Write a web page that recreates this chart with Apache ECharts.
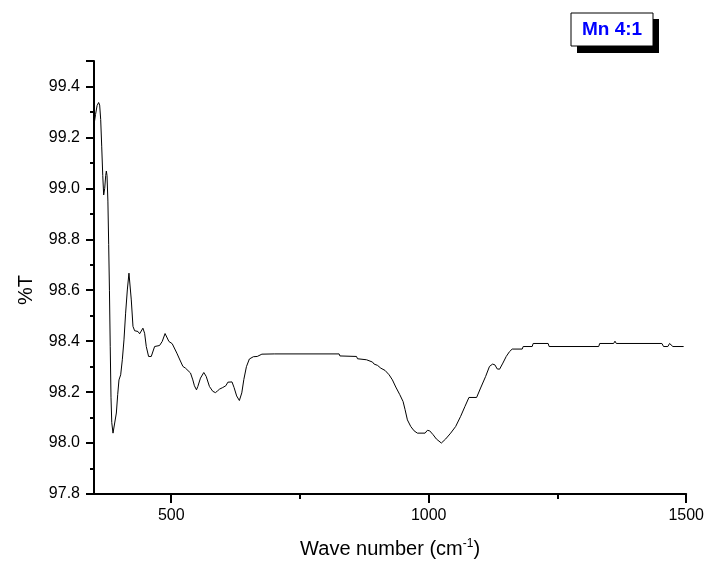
<!DOCTYPE html>
<html>
<head>
<meta charset="utf-8">
<script src="https://cdn.jsdelivr.net/npm/echarts@6/dist/echarts.min.js"></script>
<style>html,body{margin:0;padding:0;background:#fff;}#c{width:707px;height:567px;}</style>
</head>
<body>
<div id="c"></div>
<script>
// Wave number (cm-1)
var waveNumber = [350,353,356,359,361,363,365,367,368.8,370.8,372.7,374,375.3,377,378.5,380,381.5,383,384.5,386.9,389.5,393.4,396,398.5,401.8,405,408.2,411.4,414.7,417.9,419.2,422.4,425.7,428.9,435.4,438.6,445,448.3,451.5,456,461.2,467.7,477.3,482.5,488,491.6,495.4,501.9,510.9,516,522.6,527.7,537.4,541.9,545,549,551.6,556.8,563.2,567.8,574.2,580.7,585.8,590,594,600,606,610,618,622,627,632.3,637,641,646,651.7,659.5,667,676,700,826,827.5,859.8,861.7,879.2,881.1,890.8,894,900.5,907,915.3,923.1,929.5,936,943.8,950.2,954.1,958.6,965.1,971.6,978,992.9,997.4,1001.9,1008.4,1014.8,1024.5,1032.9,1042.6,1052.3,1062,1070.4,1078.1,1093,1100.7,1110.4,1118,1124,1128.5,1133,1137.6,1144,1150.5,1156.9,1162.1,1181.5,1183.4,1200.9,1202.8,1231.9,1233.8,1330.1,1332,1359.1,1361.7,1364.3,1452.8,1456,1464.4,1467.7,1470.9,1474.1,1495];
// %T
var transmittance = [99.25,99.29,99.325,99.337,99.327,99.27,99.163,99.05,98.974,99.0,99.05,99.068,99.05,98.95,98.78,98.60,98.38,98.18,98.08,98.039,98.042,98.118,98.19,98.248,98.268,98.327,98.405,98.51,98.601,98.667,98.671,98.562,98.458,98.441,98.438,98.429,98.451,98.431,98.379,98.34,98.34,98.379,98.383,98.399,98.43,98.425,98.399,98.39,98.353,98.33,98.301,98.294,98.275,98.248,98.225,98.209,98.222,98.255,98.277,98.262,98.222,98.203,98.198,98.205,98.212,98.218,98.225,98.239,98.24,98.218,98.185,98.167,98.197,98.25,98.30,98.33,98.339,98.34,98.349,98.35,98.35,98.342,98.34,98.331,98.327,98.32,98.318,98.31,98.305,98.294,98.285,98.268,98.248,98.22,98.19,98.163,98.131,98.091,98.065,98.048,98.039,98.039,98.05,98.048,98.033,98.016,98.0,98.016,98.039,98.065,98.105,98.144,98.179,98.179,98.216,98.261,98.301,98.31,98.307,98.291,98.29,98.314,98.34,98.359,98.369,98.369,98.379,98.379,98.391,98.391,98.379,98.379,98.391,98.391,98.4,98.391,98.391,98.379,98.379,98.391,98.391,98.379,98.379];

var xMajorTicks = [500, 1000, 1500];
var xMinorTicks = [750, 1250];
var yMajorTicks = [97.8, 98.0, 98.2, 98.4, 98.6, 98.8, 99.0, 99.2, 99.4];
var yMinorTicks = [97.9, 98.1, 98.3, 98.5, 98.7, 98.9, 99.1, 99.3, 99.5];
var sampleLabel = 'Mn 4:1';

var points = waveNumber.map(function (w, i) { return [w, transmittance[i]]; });

var font = '"Liberation Sans", Arial, sans-serif';
var chart = echarts.init(document.getElementById('c'), null, {renderer: 'canvas'});
chart.setOption({
  animation: false,
  backgroundColor: '#fff',
  grid: {left: 94, right: 19, top: 61, bottom: 73},
  xAxis: [{
    type: 'value', min: 350, max: 1500,
    name: 'Wave number (cm{sup|-1})', nameLocation: 'middle', nameGap: 44,
    nameTextStyle: {fontFamily: font, fontSize: 20, color: '#000',
      rich: {sup: {fontFamily: font, fontSize: 12, color: '#000', verticalAlign: 'top', padding: [0,0,10,0]}}},
    axisLine: {show: true, onZero: false, lineStyle: {color: '#000', width: 2}},
    axisTick: {show: true, length: 9, inside: false, customValues: xMajorTicks, lineStyle: {color: '#000', width: 2}},
    axisLabel: {show: true, customValues: xMajorTicks, margin: 14, fontFamily: font, fontSize: 16, color: '#000',
      formatter: function (v) { return String(v); }},
    splitLine: {show: false}
  }, {
    type: 'value', min: 350, max: 1500, position: 'bottom', gridIndex: 0,
    axisLine: {show: false},
    axisTick: {show: true, length: 5, customValues: xMinorTicks, lineStyle: {color: '#000', width: 2}},
    axisLabel: {show: false},
    splitLine: {show: false}
  }],
  yAxis: [{
    type: 'value', min: 97.8, max: 99.5,
    name: '%T', nameLocation: 'middle', nameGap: 58, nameRotate: 90,
    nameTextStyle: {fontFamily: font, fontSize: 20, color: '#000', padding: [0, 25, 0, 0]},
    axisLine: {show: true, onZero: false, lineStyle: {color: '#000', width: 2}},
    axisTick: {show: true, length: 8, customValues: yMajorTicks.concat([99.5]), lineStyle: {color: '#000', width: 2}},
    axisLabel: {show: true, customValues: yMajorTicks, margin: 14, fontFamily: font, fontSize: 16, color: '#000',
      formatter: function (v) { return v.toFixed(1); }},
    splitLine: {show: false}
  }, {
    type: 'value', min: 97.8, max: 99.5, position: 'left',
    axisLine: {show: false},
    axisTick: {show: true, length: 4, customValues: yMinorTicks, lineStyle: {color: '#000', width: 2}},
    axisLabel: {show: false},
    splitLine: {show: false}
  }],
  series: [{
    type: 'line', xAxisIndex: 0, yAxisIndex: 0,
    data: points, showSymbol: false, symbol: 'none', smooth: false,
    lineStyle: {color: '#000', width: 1}
  }],
  graphic: [
    {type: 'rect', shape: {x: 577, y: 19, width: 82, height: 34}, style: {fill: '#000'}, z: 10},
    {type: 'rect', shape: {x: 571, y: 13, width: 82, height: 33}, style: {fill: '#fff', stroke: '#000', lineWidth: 1}, z: 11},
    {type: 'text', x: 612, y: 30, style: {text: sampleLabel, fill: '#0000ff', font: 'bold 19px ' + font, align: 'center', verticalAlign: 'middle'}, z: 12}
  ]
});
</script>
</body>
</html>
